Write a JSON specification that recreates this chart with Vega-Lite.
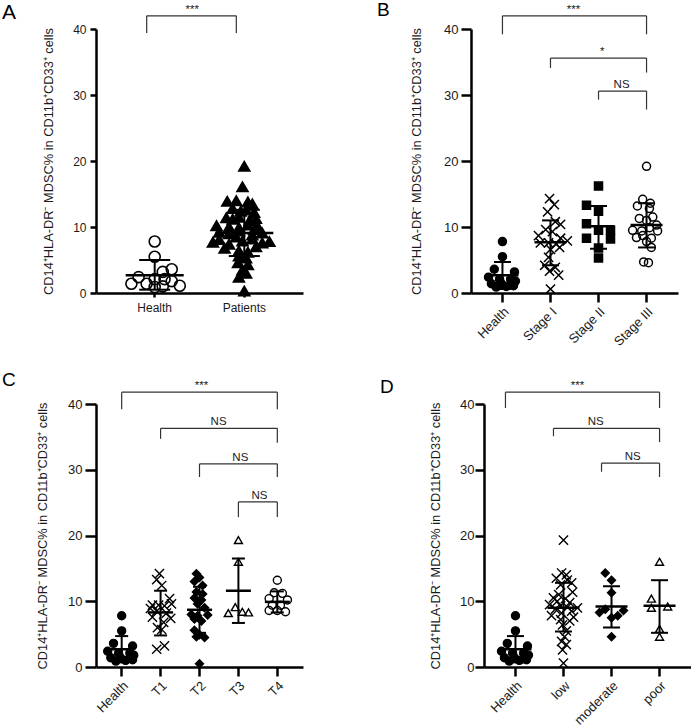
{
"$schema": "https://vega.github.io/schema/vega-lite/v6.json",
"padding": {"left": 2, "top": 0, "right": 0, "bottom": 0},
"config": {
 "view": {"stroke": null},
 "font": "Liberation Sans",
 "axis": {"grid": false, "domainColor": "black", "domainWidth": 2.5, "tickColor": "black", "tickWidth": 2.5, "labelColor": "#1a1a1a", "titleColor": "#1a1a1a", "labelFont": "Liberation Sans", "titleFont": "Liberation Sans", "titleFontWeight": "normal", "titleFontSize": 12.8},
 "title": {"anchor": "start", "frame": "group", "fontSize": 19, "fontWeight": "normal", "font": "Liberation Sans", "color": "black", "baseline": "alphabetic", "offset": 0}
},
"resolve": {"scale": {"shape": "independent", "fill": "independent", "xOffset": "independent"}},
"datasets": {
 "pts": [
  {"p":"A","g":"Health","v":7.8,"j":0},{"p":"A","g":"Health","v":5.5,"j":0},{"p":"A","g":"Health","v":3.6,"j":0.19},{"p":"A","g":"Health","v":3.2,"j":0.09},{"p":"A","g":"Health","v":2.4,"j":-0.18},{"p":"A","g":"Health","v":2.1,"j":0},{"p":"A","g":"Health","v":2.1,"j":0.11},{"p":"A","g":"Health","v":1.8,"j":0.19},{"p":"A","g":"Health","v":1.4,"j":-0.26},{"p":"A","g":"Health","v":1.4,"j":-0.09},{"p":"A","g":"Health","v":1.1,"j":0.28},{"p":"A","g":"Health","v":1.0,"j":0.09},{"p":"A","g":"Health","v":0.9,"j":0},
  {"p":"A","g":"Patients","v":19.2,"j":0},{"p":"A","g":"Patients","v":16.1,"j":-0.02},{"p":"A","g":"Patients","v":13.9,"j":-0.19},{"p":"A","g":"Patients","v":14.0,"j":-0.09},{"p":"A","g":"Patients","v":13.8,"j":0.04},{"p":"A","g":"Patients","v":13.5,"j":0.09},{"p":"A","g":"Patients","v":12.8,"j":-0.13},{"p":"A","g":"Patients","v":12.4,"j":-0.04},{"p":"A","g":"Patients","v":12.6,"j":0.02},{"p":"A","g":"Patients","v":12.2,"j":0.11},{"p":"A","g":"Patients","v":11.4,"j":-0.2},{"p":"A","g":"Patients","v":11.2,"j":-0.13},{"p":"A","g":"Patients","v":11.5,"j":-0.06},{"p":"A","g":"Patients","v":11.0,"j":0.06},{"p":"A","g":"Patients","v":11.3,"j":0.13},{"p":"A","g":"Patients","v":10.2,"j":-0.31},{"p":"A","g":"Patients","v":10.0,"j":-0.17},{"p":"A","g":"Patients","v":9.9,"j":-0.06},{"p":"A","g":"Patients","v":10.3,"j":0.04},{"p":"A","g":"Patients","v":10.1,"j":0.15},{"p":"A","g":"Patients","v":9.2,"j":-0.28},{"p":"A","g":"Patients","v":9.0,"j":-0.17},{"p":"A","g":"Patients","v":9.4,"j":-0.06},{"p":"A","g":"Patients","v":8.8,"j":0.09},{"p":"A","g":"Patients","v":9.1,"j":0.2},{"p":"A","g":"Patients","v":7.7,"j":-0.35},{"p":"A","g":"Patients","v":8.1,"j":-0.28},{"p":"A","g":"Patients","v":7.4,"j":-0.17},{"p":"A","g":"Patients","v":7.9,"j":-0.02},{"p":"A","g":"Patients","v":8.2,"j":0.09},{"p":"A","g":"Patients","v":7.6,"j":0.2},{"p":"A","g":"Patients","v":7.8,"j":0.28},{"p":"A","g":"Patients","v":6.8,"j":-0.22},{"p":"A","g":"Patients","v":7.0,"j":0.13},{"p":"A","g":"Patients","v":6.4,"j":-0.06},{"p":"A","g":"Patients","v":6.2,"j":0.04},{"p":"A","g":"Patients","v":5.6,"j":-0.06},{"p":"A","g":"Patients","v":5.3,"j":0.02},{"p":"A","g":"Patients","v":4.6,"j":-0.07},{"p":"A","g":"Patients","v":4.3,"j":0.04},{"p":"A","g":"Patients","v":3.5,"j":-0.02},{"p":"A","g":"Patients","v":3.0,"j":0.02},{"p":"A","g":"Patients","v":2.4,"j":-0.06},{"p":"A","g":"Patients","v":0.3,"j":0},{"p":"A","g":"Patients","v":8.5,"j":-0.09},{"p":"A","g":"Patients","v":9.6,"j":0.11},
  {"p":"B","g":"Health","v":7.8,"j":0},{"p":"B","g":"Health","v":5.5,"j":0},{"p":"B","g":"Health","v":3.6,"j":-0.17},{"p":"B","g":"Health","v":3.2,"j":0.25},{"p":"B","g":"Health","v":2.4,"j":-0.29},{"p":"B","g":"Health","v":2.1,"j":-0.06},{"p":"B","g":"Health","v":2.1,"j":0.17},{"p":"B","g":"Health","v":1.8,"j":0.27},{"p":"B","g":"Health","v":1.4,"j":-0.23},{"p":"B","g":"Health","v":1.4,"j":-0.02},{"p":"B","g":"Health","v":1.1,"j":0.23},{"p":"B","g":"Health","v":1.0,"j":0.08},{"p":"B","g":"Health","v":0.9,"j":-0.13},
  {"p":"B","g":"Stage I","v":14.3,"j":-0.02},{"p":"B","g":"Stage I","v":13.4,"j":0.08},{"p":"B","g":"Stage I","v":12.3,"j":-0.06},{"p":"B","g":"Stage I","v":10.8,"j":0.1},{"p":"B","g":"Stage I","v":10.4,"j":0.21},{"p":"B","g":"Stage I","v":9.6,"j":-0.1},{"p":"B","g":"Stage I","v":9.3,"j":0.04},{"p":"B","g":"Stage I","v":8.7,"j":-0.25},{"p":"B","g":"Stage I","v":8.3,"j":0.21},{"p":"B","g":"Stage I","v":7.9,"j":0.35},{"p":"B","g":"Stage I","v":7.6,"j":-0.21},{"p":"B","g":"Stage I","v":7.6,"j":-0.04},{"p":"B","g":"Stage I","v":7.4,"j":0.12},{"p":"B","g":"Stage I","v":6.9,"j":0.19},{"p":"B","g":"Stage I","v":6.6,"j":0},{"p":"B","g":"Stage I","v":5.4,"j":-0.04},{"p":"B","g":"Stage I","v":4.2,"j":-0.12},{"p":"B","g":"Stage I","v":3.9,"j":0.1},{"p":"B","g":"Stage I","v":3.3,"j":-0.02},{"p":"B","g":"Stage I","v":2.7,"j":0.17},{"p":"B","g":"Stage I","v":0.6,"j":0},
  {"p":"B","g":"Stage II","v":16.2,"j":0},{"p":"B","g":"Stage II","v":13.3,"j":-0.25},{"p":"B","g":"Stage II","v":12.4,"j":0},{"p":"B","g":"Stage II","v":10.5,"j":-0.25},{"p":"B","g":"Stage II","v":9.5,"j":0},{"p":"B","g":"Stage II","v":9.5,"j":0.25},{"p":"B","g":"Stage II","v":8.3,"j":-0.25},{"p":"B","g":"Stage II","v":8.2,"j":0.25},{"p":"B","g":"Stage II","v":6.8,"j":0},{"p":"B","g":"Stage II","v":5.3,"j":0},
  {"p":"B","g":"Stage III","v":19.2,"j":0},{"p":"B","g":"Stage III","v":14.2,"j":-0.08},{"p":"B","g":"Stage III","v":13.6,"j":0.08},{"p":"B","g":"Stage III","v":13.2,"j":-0.19},{"p":"B","g":"Stage III","v":12.8,"j":0.06},{"p":"B","g":"Stage III","v":11.5,"j":0.13},{"p":"B","g":"Stage III","v":11.3,"j":-0.15},{"p":"B","g":"Stage III","v":11.0,"j":0},{"p":"B","g":"Stage III","v":10.3,"j":0.21},{"p":"B","g":"Stage III","v":9.9,"j":0.06},{"p":"B","g":"Stage III","v":9.5,"j":-0.29},{"p":"B","g":"Stage III","v":9.4,"j":-0.1},{"p":"B","g":"Stage III","v":9.4,"j":0.23},{"p":"B","g":"Stage III","v":8.7,"j":-0.08},{"p":"B","g":"Stage III","v":8.4,"j":-0.21},{"p":"B","g":"Stage III","v":8.3,"j":0.1},{"p":"B","g":"Stage III","v":7.8,"j":0},{"p":"B","g":"Stage III","v":6.9,"j":0.1},{"p":"B","g":"Stage III","v":4.7,"j":-0.06},{"p":"B","g":"Stage III","v":4.6,"j":0.04},
  {"p":"C","g":"Health","v":7.8,"j":0},{"p":"C","g":"Health","v":5.5,"j":0},{"p":"C","g":"Health","v":3.6,"j":-0.21},{"p":"C","g":"Health","v":3.2,"j":0.28},{"p":"C","g":"Health","v":2.4,"j":-0.36},{"p":"C","g":"Health","v":2.1,"j":-0.08},{"p":"C","g":"Health","v":2.1,"j":0.21},{"p":"C","g":"Health","v":1.8,"j":0.31},{"p":"C","g":"Health","v":1.4,"j":-0.28},{"p":"C","g":"Health","v":1.4,"j":-0.03},{"p":"C","g":"Health","v":1.1,"j":0.28},{"p":"C","g":"Health","v":1.0,"j":0.1},{"p":"C","g":"Health","v":0.9,"j":-0.15},
  {"p":"C","g":"T1","v":14.2,"j":-0.03},{"p":"C","g":"T1","v":13.3,"j":-0.1},{"p":"C","g":"T1","v":12.4,"j":0.03},{"p":"C","g":"T1","v":10.4,"j":0.23},{"p":"C","g":"T1","v":9.6,"j":0.28},{"p":"C","g":"T1","v":9.4,"j":-0.21},{"p":"C","g":"T1","v":9.4,"j":-0.05},{"p":"C","g":"T1","v":9.3,"j":0.1},{"p":"C","g":"T1","v":8.9,"j":-0.26},{"p":"C","g":"T1","v":8.5,"j":-0.1},{"p":"C","g":"T1","v":8.2,"j":0.15},{"p":"C","g":"T1","v":7.6,"j":-0.21},{"p":"C","g":"T1","v":7.4,"j":0.26},{"p":"C","g":"T1","v":6.8,"j":0.08},{"p":"C","g":"T1","v":6.0,"j":-0.08},{"p":"C","g":"T1","v":5.7,"j":0.03},{"p":"C","g":"T1","v":3.2,"j":0.1},{"p":"C","g":"T1","v":2.7,"j":-0.1},
  {"p":"C","g":"T2","v":14.2,"j":-0.08},{"p":"C","g":"T2","v":13.6,"j":0},{"p":"C","g":"T2","v":13.0,"j":-0.13},{"p":"C","g":"T2","v":12.4,"j":0.08},{"p":"C","g":"T2","v":11.4,"j":-0.08},{"p":"C","g":"T2","v":11.1,"j":0.08},{"p":"C","g":"T2","v":10.5,"j":-0.13},{"p":"C","g":"T2","v":10.2,"j":0.05},{"p":"C","g":"T2","v":9.6,"j":-0.05},{"p":"C","g":"T2","v":9.0,"j":0.13},{"p":"C","g":"T2","v":8.0,"j":-0.21},{"p":"C","g":"T2","v":7.8,"j":-0.05},{"p":"C","g":"T2","v":7.9,"j":0.21},{"p":"C","g":"T2","v":7.3,"j":-0.13},{"p":"C","g":"T2","v":7.0,"j":0.05},{"p":"C","g":"T2","v":5.6,"j":-0.13},{"p":"C","g":"T2","v":4.9,"j":0},{"p":"C","g":"T2","v":4.6,"j":-0.08},{"p":"C","g":"T2","v":4.5,"j":0.13},{"p":"C","g":"T2","v":0.5,"j":0},
  {"p":"C","g":"T3","v":19.3,"j":0},{"p":"C","g":"T3","v":16.0,"j":0},{"p":"C","g":"T3","v":9.1,"j":-0.08},{"p":"C","g":"T3","v":8.2,"j":-0.26},{"p":"C","g":"T3","v":8.4,"j":0.1},{"p":"C","g":"T3","v":8.3,"j":0.26},
  {"p":"C","g":"T4","v":13.2,"j":0},{"p":"C","g":"T4","v":11.3,"j":-0.08},{"p":"C","g":"T4","v":11.2,"j":0.13},{"p":"C","g":"T4","v":10.4,"j":-0.21},{"p":"C","g":"T4","v":10.2,"j":0.26},{"p":"C","g":"T4","v":9.4,"j":-0.13},{"p":"C","g":"T4","v":9.4,"j":0.08},{"p":"C","g":"T4","v":8.6,"j":-0.21},{"p":"C","g":"T4","v":8.6,"j":0},{"p":"C","g":"T4","v":8.4,"j":0.21},
  {"p":"D","g":"Health","v":7.8,"j":0},{"p":"D","g":"Health","v":5.5,"j":0},{"p":"D","g":"Health","v":3.6,"j":-0.17},{"p":"D","g":"Health","v":3.2,"j":0.25},{"p":"D","g":"Health","v":2.4,"j":-0.29},{"p":"D","g":"Health","v":2.1,"j":-0.06},{"p":"D","g":"Health","v":2.1,"j":0.17},{"p":"D","g":"Health","v":1.8,"j":0.27},{"p":"D","g":"Health","v":1.4,"j":-0.23},{"p":"D","g":"Health","v":1.4,"j":-0.02},{"p":"D","g":"Health","v":1.1,"j":0.23},{"p":"D","g":"Health","v":1.0,"j":0.08},{"p":"D","g":"Health","v":0.9,"j":-0.13},
  {"p":"D","g":"low","v":19.3,"j":0},{"p":"D","g":"low","v":14.3,"j":-0.04},{"p":"D","g":"low","v":14.0,"j":0.06},{"p":"D","g":"low","v":13.5,"j":-0.15},{"p":"D","g":"low","v":13.2,"j":0.08},{"p":"D","g":"low","v":12.8,"j":0.17},{"p":"D","g":"low","v":12.5,"j":-0.06},{"p":"D","g":"low","v":11.4,"j":0.19},{"p":"D","g":"low","v":11.0,"j":-0.1},{"p":"D","g":"low","v":10.5,"j":-0.21},{"p":"D","g":"low","v":10.4,"j":0.04},{"p":"D","g":"low","v":10.0,"j":-0.13},{"p":"D","g":"low","v":9.8,"j":0.13},{"p":"D","g":"low","v":9.5,"j":-0.29},{"p":"D","g":"low","v":9.3,"j":-0.06},{"p":"D","g":"low","v":9.1,"j":0.08},{"p":"D","g":"low","v":9.0,"j":0.29},{"p":"D","g":"low","v":8.8,"j":-0.17},{"p":"D","g":"low","v":8.5,"j":0.17},{"p":"D","g":"low","v":8.2,"j":-0.04},{"p":"D","g":"low","v":7.8,"j":-0.25},{"p":"D","g":"low","v":7.6,"j":0.21},{"p":"D","g":"low","v":7.2,"j":-0.06},{"p":"D","g":"low","v":7.0,"j":0.13},{"p":"D","g":"low","v":6.4,"j":-0.02},{"p":"D","g":"low","v":5.5,"j":0.06},{"p":"D","g":"low","v":4.6,"j":0.02},{"p":"D","g":"low","v":3.9,"j":-0.04},{"p":"D","g":"low","v":3.4,"j":0.06},{"p":"D","g":"low","v":2.6,"j":-0.02},{"p":"D","g":"low","v":0.6,"j":0},
  {"p":"D","g":"moderate","v":14.3,"j":-0.13},{"p":"D","g":"moderate","v":13.2,"j":0},{"p":"D","g":"moderate","v":11.3,"j":0},{"p":"D","g":"moderate","v":8.8,"j":-0.13},{"p":"D","g":"moderate","v":8.3,"j":-0.25},{"p":"D","g":"moderate","v":8.6,"j":0.25},{"p":"D","g":"moderate","v":7.8,"j":0.13},{"p":"D","g":"moderate","v":7.5,"j":0},{"p":"D","g":"moderate","v":4.6,"j":0},
  {"p":"D","g":"poor","v":16.0,"j":0},{"p":"D","g":"poor","v":10.4,"j":-0.17},{"p":"D","g":"poor","v":9.0,"j":-0.17},{"p":"D","g":"poor","v":9.2,"j":0.17},{"p":"D","g":"poor","v":5.8,"j":0},{"p":"D","g":"poor","v":4.6,"j":0}
 ],
 "sum": [
  {"p":"A","g":"Health","m":2.7,"lo":0.5,"hi":5.0},{"p":"A","g":"Patients","m":9.1,"lo":5.6,"hi":12.6},
  {"p":"B","g":"Health","m":2.7,"lo":0.6,"hi":4.7},{"p":"B","g":"Stage I","m":7.7,"lo":4.2,"hi":11.0},{"p":"B","g":"Stage II","m":10.1,"lo":6.7,"hi":13.2},{"p":"B","g":"Stage III","m":10.3,"lo":6.9,"hi":13.6},
  {"p":"C","g":"Health","m":2.7,"lo":0.7,"hi":4.7},{"p":"C","g":"T1","m":8.3,"lo":4.8,"hi":11.6},{"p":"C","g":"T2","m":8.7,"lo":5.2,"hi":12.2},{"p":"C","g":"T3","m":11.6,"lo":6.7,"hi":16.5},{"p":"C","g":"T4","m":9.9,"lo":8.3,"hi":11.5},
  {"p":"D","g":"Health","m":2.7,"lo":0.7,"hi":4.7},{"p":"D","g":"low","m":9.0,"lo":5.4,"hi":12.8},{"p":"D","g":"moderate","m":9.2,"lo":6.0,"hi":12.3},{"p":"D","g":"poor","m":9.3,"lo":5.2,"hi":13.2}
 ],
 "br": [
  {"p":"A","g1":"Health","g2":"Patients","y":42,"yl":39.4,"yr":39.4,"lab":"***","lg":"Health","lx":0.42},
  {"p":"B","g1":"Health","g2":"Stage III","y":42,"yl":39.2,"yr":39.2,"lab":"***","lg":"Stage I","lx":0.48},
  {"p":"B","g1":"Stage I","g2":"Stage III","y":35.6,"yl":34.1,"yr":33.4,"lab":"*","lg":"Stage II","lx":0.08},
  {"p":"B","g1":"Stage II","g2":"Stage III","y":30.6,"yl":29.3,"yr":27.8,"lab":"NS","lg":"Stage II","lx":0.48},
  {"p":"C","g1":"Health","g2":"T4","y":41.8,"yl":39.2,"yr":39.2,"lab":"***","lg":"T2","lx":0.05},
  {"p":"C","g1":"T1","g2":"T4","y":36.3,"yl":34.7,"yr":34.1,"lab":"NS","lg":"T2","lx":0.49},
  {"p":"C","g1":"T2","g2":"T4","y":30.9,"yl":28.9,"yr":28.9,"lab":"NS","lg":"T3","lx":0.05},
  {"p":"C","g1":"T3","g2":"T4","y":25.1,"yl":22.8,"yr":22.8,"lab":"NS","lg":"T4","lx":-0.46},
  {"p":"D","g1":"Health","g2":"poor","y":41.8,"yl":39.4,"yr":39.4,"lab":"***","lg":"low","lx":0.29},
  {"p":"D","g1":"low","g2":"poor","y":36.3,"yl":35.1,"yr":34.2,"lab":"NS","lg":"moderate","lx":-0.33},
  {"p":"D","g1":"moderate","g2":"poor","y":31,"yl":29.7,"yr":28.9,"lab":"NS","lg":"moderate","lx":0.44}
 ]
},
"spacing": 22,
"vconcat": [
 {"hconcat": [
  {"width": 207, "height": 264,
   "title": {"text": "A", "dx": -94, "dy": 23, "fontSize": 21},
   "layer": [
    {"data": {"name": "pts"}, "transform": [{"filter": "datum.p === 'A'"}],
     "mark": {"type": "point", "opacity": 1, "strokeWidth": 1.6, "stroke": "black", "size": 121},
     "encoding": {
      "x": {"field": "g", "type": "nominal", "scale": {"domain": ["Health","Patients"], "paddingInner": 0, "paddingOuter": 0.155}, "axis": {"title": null, "labelAngle": 0, "tickSize": 4, "labelPadding": 5, "labelFontSize": 12}},
      "xOffset": {"field": "j", "type": "quantitative", "scale": {"domain": [-0.5, 0.5]}},
      "y": {"field": "v", "type": "quantitative", "scale": {"domain": [0, 40], "nice": false}, "axis": {"title": "CD14⁺HLA-DR⁻ MDSC% in CD11b⁺CD33⁺ cells", "values": [0,10,20,30,40], "tickSize": 6, "labelPadding": 4, "labelFontSize": 12, "titlePadding": 17}},
      "shape": {"field": "g", "type": "nominal", "scale": {"domain": ["Health","Patients"], "range": ["circle","triangle-up"]}, "legend": null},
      "fill": {"field": "g", "type": "nominal", "scale": {"domain": ["Health","Patients"], "range": ["transparent","black"]}, "legend": null}
     }},
    {"data": {"name": "sum"}, "transform": [{"filter": "datum.p === 'A'"}],
     "mark": {"type": "rule", "strokeWidth": 2, "color": "black"},
     "encoding": {"x": {"field": "g", "type": "nominal", "scale": {"domain": ["Health","Patients"], "paddingInner": 0, "paddingOuter": 0.155}}, "y": {"field": "lo", "type": "quantitative", "scale": {"domain": [0, 40], "nice": false}}, "y2": {"field": "hi"}}},
    {"data": {"name": "sum"}, "transform": [{"filter": "datum.p === 'A'"}],
     "mark": {"type": "tick", "size": 58, "thickness": 2.5, "color": "black", "opacity": 1},
     "encoding": {"x": {"field": "g", "type": "nominal", "scale": {"domain": ["Health","Patients"], "paddingInner": 0, "paddingOuter": 0.155}}, "y": {"field": "m", "type": "quantitative", "scale": {"domain": [0, 40], "nice": false}}}},
    {"data": {"name": "sum"}, "transform": [{"filter": "datum.p === 'A'"}],
     "mark": {"type": "tick", "size": 31, "thickness": 2, "color": "black", "opacity": 1},
     "encoding": {"x": {"field": "g", "type": "nominal", "scale": {"domain": ["Health","Patients"], "paddingInner": 0, "paddingOuter": 0.155}}, "y": {"field": "lo", "type": "quantitative", "scale": {"domain": [0, 40], "nice": false}}}},
    {"data": {"name": "sum"}, "transform": [{"filter": "datum.p === 'A'"}],
     "mark": {"type": "tick", "size": 31, "thickness": 2, "color": "black", "opacity": 1},
     "encoding": {"x": {"field": "g", "type": "nominal", "scale": {"domain": ["Health","Patients"], "paddingInner": 0, "paddingOuter": 0.155}}, "y": {"field": "hi", "type": "quantitative", "scale": {"domain": [0, 40], "nice": false}}}},
    {"data": {"name": "br"}, "transform": [{"filter": "datum.p === 'A'"}],
     "mark": {"type": "rule", "strokeWidth": 1.2, "color": "#333", "xOffset": -8, "x2Offset": -8},
     "encoding": {"x": {"field": "g1", "type": "nominal", "scale": {"domain": ["Health","Patients"], "paddingInner": 0, "paddingOuter": 0.155}}, "x2": {"field": "g2"}, "y": {"field": "y", "type": "quantitative", "scale": {"domain": [0, 40], "nice": false}}}},
    {"data": {"name": "br"}, "transform": [{"filter": "datum.p === 'A'"}],
     "mark": {"type": "rule", "strokeWidth": 1.2, "color": "#333", "xOffset": -8},
     "encoding": {"x": {"field": "g1", "type": "nominal", "scale": {"domain": ["Health","Patients"], "paddingInner": 0, "paddingOuter": 0.155}}, "y": {"field": "y", "type": "quantitative", "scale": {"domain": [0, 40], "nice": false}}, "y2": {"field": "yl"}}},
    {"data": {"name": "br"}, "transform": [{"filter": "datum.p === 'A'"}],
     "mark": {"type": "rule", "strokeWidth": 1.2, "color": "#333", "xOffset": -8},
     "encoding": {"x": {"field": "g2", "type": "nominal", "scale": {"domain": ["Health","Patients"], "paddingInner": 0, "paddingOuter": 0.155}}, "y": {"field": "y", "type": "quantitative", "scale": {"domain": [0, 40], "nice": false}}, "y2": {"field": "yr"}}},
    {"data": {"name": "br"}, "transform": [{"filter": "datum.p === 'A'"}],
     "mark": {"type": "text", "fontSize": 11.5, "baseline": "alphabetic", "dy": -3, "color": "#222"},
     "encoding": {"x": {"field": "lg", "type": "nominal", "scale": {"domain": ["Health","Patients"], "paddingInner": 0, "paddingOuter": 0.155}}, "xOffset": {"field": "lx", "type": "quantitative", "scale": {"domain": [-0.5, 0.5]}}, "y": {"field": "y", "type": "quantitative", "scale": {"domain": [0, 40], "nice": false}}, "text": {"field": "lab"}}}
   ]},
  {"width": 207, "height": 264,
   "title": {"text": "B", "dx": -94, "dy": 20},
   "layer": [
    {"data": {"name": "pts"}, "transform": [{"filter": "datum.p === 'B'"}],
     "mark": {"type": "point", "opacity": 1, "strokeWidth": 1.5, "stroke": "black", "size": 64},
     "encoding": {
      "x": {"field": "g", "type": "nominal", "scale": {"domain": ["Health","Stage I","Stage II","Stage III"], "paddingInner": 0, "paddingOuter": 0.155}, "axis": {"title": null, "labelAngle": -45, "tickSize": 9, "labelPadding": 3, "labelFontSize": 13}},
      "xOffset": {"field": "j", "type": "quantitative", "scale": {"domain": [-0.5, 0.5]}},
      "y": {"field": "v", "type": "quantitative", "scale": {"domain": [0, 40], "nice": false}, "axis": {"title": "CD14⁺HLA-DR⁻ MDSC% in CD11b⁺CD33⁺ cells", "values": [0,10,20,30,40], "tickSize": 10, "labelPadding": 3, "labelFontSize": 13, "titlePadding": 20}},
      "shape": {"field": "g", "type": "nominal", "scale": {"domain": ["Health","Stage I","Stage II","Stage III"], "range": ["circle","M-1.15,-1.15L1.15,1.15M-1.15,1.15L1.15,-1.15","square","circle"]}, "legend": null},
      "fill": {"field": "g", "type": "nominal", "scale": {"domain": ["Health","Stage I","Stage II","Stage III"], "range": ["black","transparent","black","transparent"]}, "legend": null}
     }},
    {"data": {"name": "sum"}, "transform": [{"filter": "datum.p === 'B'"}],
     "mark": {"type": "rule", "strokeWidth": 2, "color": "black"},
     "encoding": {"x": {"field": "g", "type": "nominal", "scale": {"domain": ["Health","Stage I","Stage II","Stage III"], "paddingInner": 0, "paddingOuter": 0.155}}, "y": {"field": "lo", "type": "quantitative", "scale": {"domain": [0, 40], "nice": false}}, "y2": {"field": "hi"}}},
    {"data": {"name": "sum"}, "transform": [{"filter": "datum.p === 'B'"}],
     "mark": {"type": "tick", "size": 32, "thickness": 2.5, "color": "black", "opacity": 1},
     "encoding": {"x": {"field": "g", "type": "nominal", "scale": {"domain": ["Health","Stage I","Stage II","Stage III"], "paddingInner": 0, "paddingOuter": 0.155}}, "y": {"field": "m", "type": "quantitative", "scale": {"domain": [0, 40], "nice": false}}}},
    {"data": {"name": "sum"}, "transform": [{"filter": "datum.p === 'B'"}],
     "mark": {"type": "tick", "size": 17, "thickness": 2, "color": "black", "opacity": 1},
     "encoding": {"x": {"field": "g", "type": "nominal", "scale": {"domain": ["Health","Stage I","Stage II","Stage III"], "paddingInner": 0, "paddingOuter": 0.155}}, "y": {"field": "lo", "type": "quantitative", "scale": {"domain": [0, 40], "nice": false}}}},
    {"data": {"name": "sum"}, "transform": [{"filter": "datum.p === 'B'"}],
     "mark": {"type": "tick", "size": 17, "thickness": 2, "color": "black", "opacity": 1},
     "encoding": {"x": {"field": "g", "type": "nominal", "scale": {"domain": ["Health","Stage I","Stage II","Stage III"], "paddingInner": 0, "paddingOuter": 0.155}}, "y": {"field": "hi", "type": "quantitative", "scale": {"domain": [0, 40], "nice": false}}}},
    {"data": {"name": "br"}, "transform": [{"filter": "datum.p === 'B'"}],
     "mark": {"type": "rule", "strokeWidth": 1.2, "color": "#333"},
     "encoding": {"x": {"field": "g1", "type": "nominal", "scale": {"domain": ["Health","Stage I","Stage II","Stage III"], "paddingInner": 0, "paddingOuter": 0.155}}, "x2": {"field": "g2"}, "y": {"field": "y", "type": "quantitative", "scale": {"domain": [0, 40], "nice": false}}}},
    {"data": {"name": "br"}, "transform": [{"filter": "datum.p === 'B'"}],
     "mark": {"type": "rule", "strokeWidth": 1.2, "color": "#333"},
     "encoding": {"x": {"field": "g1", "type": "nominal", "scale": {"domain": ["Health","Stage I","Stage II","Stage III"], "paddingInner": 0, "paddingOuter": 0.155}}, "y": {"field": "y", "type": "quantitative", "scale": {"domain": [0, 40], "nice": false}}, "y2": {"field": "yl"}}},
    {"data": {"name": "br"}, "transform": [{"filter": "datum.p === 'B'"}],
     "mark": {"type": "rule", "strokeWidth": 1.2, "color": "#333"},
     "encoding": {"x": {"field": "g2", "type": "nominal", "scale": {"domain": ["Health","Stage I","Stage II","Stage III"], "paddingInner": 0, "paddingOuter": 0.155}}, "y": {"field": "y", "type": "quantitative", "scale": {"domain": [0, 40], "nice": false}}, "y2": {"field": "yr"}}},
    {"data": {"name": "br"}, "transform": [{"filter": "datum.p === 'B'"}],
     "mark": {"type": "text", "fontSize": 11.5, "baseline": "alphabetic", "dy": -3, "color": "#222"},
     "encoding": {"x": {"field": "lg", "type": "nominal", "scale": {"domain": ["Health","Stage I","Stage II","Stage III"], "paddingInner": 0, "paddingOuter": 0.155}}, "xOffset": {"field": "lx", "type": "quantitative", "scale": {"domain": [-0.5, 0.5]}}, "y": {"field": "y", "type": "quantitative", "scale": {"domain": [0, 40], "nice": false}}, "text": {"field": "lab"}}}
   ]}
 ], "spacing": 168, "bounds": "flush", "resolve": {"scale": {"shape": "independent", "fill": "independent", "xOffset": "independent"}}},
 {"hconcat": [
  {"width": 207, "height": 263,
   "title": {"text": "C", "dx": -94, "dy": 14},
   "layer": [
    {"data": {"name": "pts"}, "transform": [{"filter": "datum.p === 'C'"}],
     "mark": {"type": "point", "opacity": 1, "strokeWidth": 1.4, "stroke": "black", "size": 64},
     "encoding": {
      "x": {"field": "g", "type": "nominal", "scale": {"domain": ["Health","T1","T2","T3","T4"], "paddingInner": 0, "paddingOuter": 0.16}, "axis": {"title": null, "labelAngle": -45, "tickSize": 9, "labelPadding": 3, "labelFontSize": 13}},
      "xOffset": {"field": "j", "type": "quantitative", "scale": {"domain": [-0.5, 0.5]}},
      "y": {"field": "v", "type": "quantitative", "scale": {"domain": [0, 40], "nice": false}, "axis": {"title": "CD14⁺HLA-DR⁻ MDSC% in CD11b⁺CD33⁺ cells", "values": [0,10,20,30,40], "tickSize": 11, "labelPadding": 3, "labelFontSize": 13, "titlePadding": 18}},
      "shape": {"field": "g", "type": "nominal", "scale": {"domain": ["Health","T1","T2","T3","T4"], "range": ["circle","M-1.15,-1.15L1.15,1.15M-1.15,1.15L1.15,-1.15","diamond","triangle-up","circle"]}, "legend": null},
      "fill": {"field": "g", "type": "nominal", "scale": {"domain": ["Health","T1","T2","T3","T4"], "range": ["black","transparent","black","transparent","transparent"]}, "legend": null}
     }},
    {"data": {"name": "sum"}, "transform": [{"filter": "datum.p === 'C'"}],
     "mark": {"type": "rule", "strokeWidth": 2, "color": "black"},
     "encoding": {"x": {"field": "g", "type": "nominal", "scale": {"domain": ["Health","T1","T2","T3","T4"], "paddingInner": 0, "paddingOuter": 0.16}}, "y": {"field": "lo", "type": "quantitative", "scale": {"domain": [0, 40], "nice": false}}, "y2": {"field": "hi"}}},
    {"data": {"name": "sum"}, "transform": [{"filter": "datum.p === 'C'"}],
     "mark": {"type": "tick", "size": 25, "thickness": 2.5, "color": "black", "opacity": 1},
     "encoding": {"x": {"field": "g", "type": "nominal", "scale": {"domain": ["Health","T1","T2","T3","T4"], "paddingInner": 0, "paddingOuter": 0.16}}, "y": {"field": "m", "type": "quantitative", "scale": {"domain": [0, 40], "nice": false}}}},
    {"data": {"name": "sum"}, "transform": [{"filter": "datum.p === 'C'"}],
     "mark": {"type": "tick", "size": 13, "thickness": 2, "color": "black", "opacity": 1},
     "encoding": {"x": {"field": "g", "type": "nominal", "scale": {"domain": ["Health","T1","T2","T3","T4"], "paddingInner": 0, "paddingOuter": 0.16}}, "y": {"field": "lo", "type": "quantitative", "scale": {"domain": [0, 40], "nice": false}}}},
    {"data": {"name": "sum"}, "transform": [{"filter": "datum.p === 'C'"}],
     "mark": {"type": "tick", "size": 13, "thickness": 2, "color": "black", "opacity": 1},
     "encoding": {"x": {"field": "g", "type": "nominal", "scale": {"domain": ["Health","T1","T2","T3","T4"], "paddingInner": 0, "paddingOuter": 0.16}}, "y": {"field": "hi", "type": "quantitative", "scale": {"domain": [0, 40], "nice": false}}}},
    {"data": {"name": "br"}, "transform": [{"filter": "datum.p === 'C'"}],
     "mark": {"type": "rule", "strokeWidth": 1.2, "color": "#333"},
     "encoding": {"x": {"field": "g1", "type": "nominal", "scale": {"domain": ["Health","T1","T2","T3","T4"], "paddingInner": 0, "paddingOuter": 0.16}}, "x2": {"field": "g2"}, "y": {"field": "y", "type": "quantitative", "scale": {"domain": [0, 40], "nice": false}}}},
    {"data": {"name": "br"}, "transform": [{"filter": "datum.p === 'C'"}],
     "mark": {"type": "rule", "strokeWidth": 1.2, "color": "#333"},
     "encoding": {"x": {"field": "g1", "type": "nominal", "scale": {"domain": ["Health","T1","T2","T3","T4"], "paddingInner": 0, "paddingOuter": 0.16}}, "y": {"field": "y", "type": "quantitative", "scale": {"domain": [0, 40], "nice": false}}, "y2": {"field": "yl"}}},
    {"data": {"name": "br"}, "transform": [{"filter": "datum.p === 'C'"}],
     "mark": {"type": "rule", "strokeWidth": 1.2, "color": "#333"},
     "encoding": {"x": {"field": "g2", "type": "nominal", "scale": {"domain": ["Health","T1","T2","T3","T4"], "paddingInner": 0, "paddingOuter": 0.16}}, "y": {"field": "y", "type": "quantitative", "scale": {"domain": [0, 40], "nice": false}}, "y2": {"field": "yr"}}},
    {"data": {"name": "br"}, "transform": [{"filter": "datum.p === 'C'"}],
     "mark": {"type": "text", "fontSize": 11.5, "baseline": "alphabetic", "dy": -3, "color": "#222"},
     "encoding": {"x": {"field": "lg", "type": "nominal", "scale": {"domain": ["Health","T1","T2","T3","T4"], "paddingInner": 0, "paddingOuter": 0.16}}, "xOffset": {"field": "lx", "type": "quantitative", "scale": {"domain": [-0.5, 0.5]}}, "y": {"field": "y", "type": "quantitative", "scale": {"domain": [0, 40], "nice": false}}, "text": {"field": "lab"}}}
   ]},
  {"width": 207, "height": 263,
   "title": {"text": "D", "dx": -104, "dy": 21},
   "layer": [
    {"data": {"name": "pts"}, "transform": [{"filter": "datum.p === 'D'"}],
     "mark": {"type": "point", "opacity": 1, "strokeWidth": 1.4, "stroke": "black", "size": 64},
     "encoding": {
      "x": {"field": "g", "type": "nominal", "scale": {"domain": ["Health","low","moderate","poor"], "paddingInner": 0, "paddingOuter": 0.155}, "axis": {"title": null, "labelAngle": -45, "tickSize": 9, "labelPadding": 3, "labelFontSize": 13}},
      "xOffset": {"field": "j", "type": "quantitative", "scale": {"domain": [-0.5, 0.5]}},
      "y": {"field": "v", "type": "quantitative", "scale": {"domain": [0, 40], "nice": false}, "axis": {"title": "CD14⁺HLA-DR⁻ MDSC% in CD11b⁺CD33⁺ cells", "values": [0,10,20,30,40], "tickSize": 9, "labelPadding": 1, "labelFontSize": 13, "titlePadding": 17}},
      "shape": {"field": "g", "type": "nominal", "scale": {"domain": ["Health","low","moderate","poor"], "range": ["circle","M-1.15,-1.15L1.15,1.15M-1.15,1.15L1.15,-1.15","diamond","triangle-up"]}, "legend": null},
      "fill": {"field": "g", "type": "nominal", "scale": {"domain": ["Health","low","moderate","poor"], "range": ["black","transparent","black","transparent"]}, "legend": null}
     }},
    {"data": {"name": "sum"}, "transform": [{"filter": "datum.p === 'D'"}],
     "mark": {"type": "rule", "strokeWidth": 2, "color": "black"},
     "encoding": {"x": {"field": "g", "type": "nominal", "scale": {"domain": ["Health","low","moderate","poor"], "paddingInner": 0, "paddingOuter": 0.155}}, "y": {"field": "lo", "type": "quantitative", "scale": {"domain": [0, 40], "nice": false}}, "y2": {"field": "hi"}}},
    {"data": {"name": "sum"}, "transform": [{"filter": "datum.p === 'D'"}],
     "mark": {"type": "tick", "size": 32, "thickness": 2.5, "color": "black", "opacity": 1},
     "encoding": {"x": {"field": "g", "type": "nominal", "scale": {"domain": ["Health","low","moderate","poor"], "paddingInner": 0, "paddingOuter": 0.155}}, "y": {"field": "m", "type": "quantitative", "scale": {"domain": [0, 40], "nice": false}}}},
    {"data": {"name": "sum"}, "transform": [{"filter": "datum.p === 'D'"}],
     "mark": {"type": "tick", "size": 17, "thickness": 2, "color": "black", "opacity": 1},
     "encoding": {"x": {"field": "g", "type": "nominal", "scale": {"domain": ["Health","low","moderate","poor"], "paddingInner": 0, "paddingOuter": 0.155}}, "y": {"field": "lo", "type": "quantitative", "scale": {"domain": [0, 40], "nice": false}}}},
    {"data": {"name": "sum"}, "transform": [{"filter": "datum.p === 'D'"}],
     "mark": {"type": "tick", "size": 17, "thickness": 2, "color": "black", "opacity": 1},
     "encoding": {"x": {"field": "g", "type": "nominal", "scale": {"domain": ["Health","low","moderate","poor"], "paddingInner": 0, "paddingOuter": 0.155}}, "y": {"field": "hi", "type": "quantitative", "scale": {"domain": [0, 40], "nice": false}}}},
    {"data": {"name": "br"}, "transform": [{"filter": "datum.p === 'D'"}],
     "mark": {"type": "rule", "strokeWidth": 1.2, "color": "#333", "xOffset": -10},
     "encoding": {"x": {"field": "g1", "type": "nominal", "scale": {"domain": ["Health","low","moderate","poor"], "paddingInner": 0, "paddingOuter": 0.155}}, "x2": {"field": "g2"}, "y": {"field": "y", "type": "quantitative", "scale": {"domain": [0, 40], "nice": false}}}},
    {"data": {"name": "br"}, "transform": [{"filter": "datum.p === 'D'"}],
     "mark": {"type": "rule", "strokeWidth": 1.2, "color": "#333", "xOffset": -10},
     "encoding": {"x": {"field": "g1", "type": "nominal", "scale": {"domain": ["Health","low","moderate","poor"], "paddingInner": 0, "paddingOuter": 0.155}}, "y": {"field": "y", "type": "quantitative", "scale": {"domain": [0, 40], "nice": false}}, "y2": {"field": "yl"}}},
    {"data": {"name": "br"}, "transform": [{"filter": "datum.p === 'D'"}],
     "mark": {"type": "rule", "strokeWidth": 1.2, "color": "#333"},
     "encoding": {"x": {"field": "g2", "type": "nominal", "scale": {"domain": ["Health","low","moderate","poor"], "paddingInner": 0, "paddingOuter": 0.155}}, "y": {"field": "y", "type": "quantitative", "scale": {"domain": [0, 40], "nice": false}}, "y2": {"field": "yr"}}},
    {"data": {"name": "br"}, "transform": [{"filter": "datum.p === 'D'"}],
     "mark": {"type": "text", "fontSize": 11.5, "baseline": "alphabetic", "dy": -3, "color": "#222"},
     "encoding": {"x": {"field": "lg", "type": "nominal", "scale": {"domain": ["Health","low","moderate","poor"], "paddingInner": 0, "paddingOuter": 0.155}}, "xOffset": {"field": "lx", "type": "quantitative", "scale": {"domain": [-0.5, 0.5]}}, "y": {"field": "y", "type": "quantitative", "scale": {"domain": [0, 40], "nice": false}}, "text": {"field": "lab"}}}
   ]}
 ], "spacing": 181, "bounds": "flush", "resolve": {"scale": {"shape": "independent", "fill": "independent", "xOffset": "independent"}}}
]
}
